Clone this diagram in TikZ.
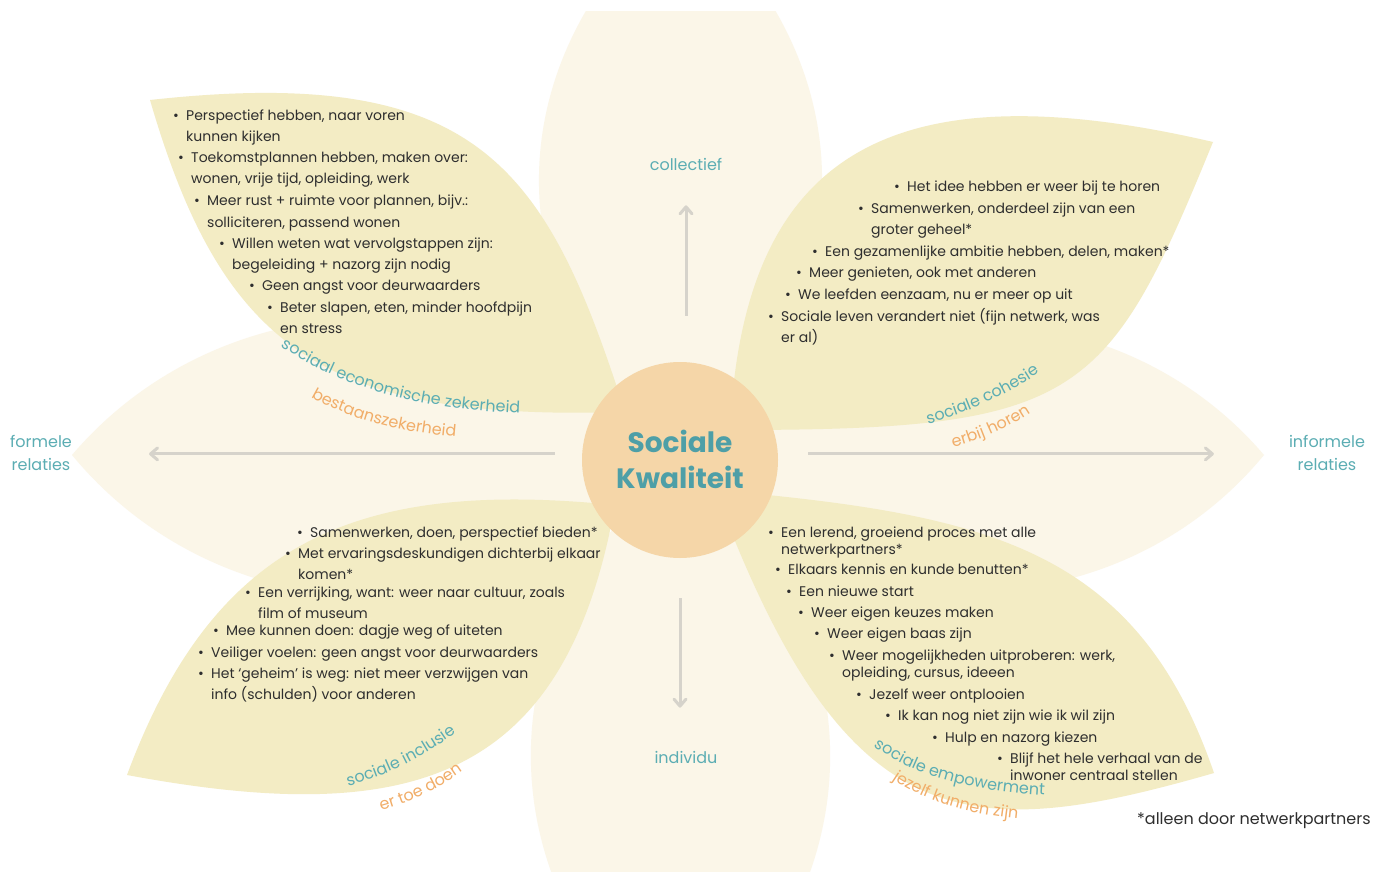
\documentclass[tikz,border=0pt]{standalone}
\usepackage{fontspec}
\setmainfont{Poppins}
\usetikzlibrary{calc,arrows.meta,decorations.text}

\definecolor{bgpetal}{HTML}{FBF6E8}
\definecolor{leafyellow}{HTML}{F3ECC4}
\definecolor{corepeach}{HTML}{F5D6A8}
\definecolor{tealtxt}{HTML}{4E9FA7}
\definecolor{teallbl}{HTML}{5BADB3}
\definecolor{orangelbl}{HTML}{F1AD68}
\definecolor{arrowgray}{HTML}{D6D3CB}
\definecolor{bodytxt}{HTML}{2E2E2E}

\newcommand{\petal}[4]{(#1) .. controls ($(#1)!#4!#3:(#2)$) and ($(#2)!#4!-#3:(#1)$) .. (#2) .. controls ($(#2)!#4!#3:(#1)$) and ($(#1)!#4!-#3:(#2)$) .. (#1) -- cycle}
\newcommand{\itm}[1]{\llap{\makebox[13pt][l]{\textbullet}}\begin{tabular}[t]{@{}l@{}}#1\end{tabular}}
\newcommand{\lblfont}{\fontsize{16}{18}\selectfont}

\begin{document}
\begin{tikzpicture}[x=1pt, y=-1pt,
  bgleaf/.style={fill=bgpetal},
  leaf/.style={fill=leafyellow},
  core/.style={circle, fill=corepeach, minimum size=196pt, inner sep=0pt},
  title/.style={anchor=base, inner sep=0pt, text=tealtxt, font=\bfseries\fontsize{28}{36}\selectfont},
  lbl/.style={anchor=base, inner sep=0pt, text=teallbl, font=\fontsize{16}{23}\selectfont},
  item/.style={anchor=base west, inner sep=0pt, text=bodytxt, font=\fontsize{14}{21}\selectfont},
  tightitem/.style={item, font=\fontsize{14}{17}\selectfont},
  axisline/.style={draw=arrowgray, line width=3pt, -{Straight Barb[length=7pt, width=12pt, round]}}]

\fill[white] (0,0) rectangle (1385,872);
\useasboundingbox (0,0) rectangle (1385,872);

\coordinate (ctr) at (680,460);
\coordinate (ttop) at (681,-100);
\coordinate (tbot) at (681,1052);
\coordinate (tleft) at (72,455);
\coordinate (tright) at (1264,455);

\begin{scope}
  \clip (0,12) rectangle (1385,872);
  \fill[bgleaf] \petal{ctr}{ttop}{50}{0.44};
  \fill[bgleaf] \petal{ctr}{tbot}{50}{0.44};
  \fill[bgleaf] \petal{ctr}{tleft}{50}{0.40};
  \fill[bgleaf] \petal{ctr}{tright}{50}{0.40};
\end{scope}

\coordinate (tlA) at (150,100);
\coordinate (tlB) at (625,412);
\coordinate (trA) at (1213,142);
\coordinate (trB) at (730,430);
\coordinate (blA) at (127,775);
\coordinate (blB) at (615,505);
\coordinate (brA) at (1214,773);
\coordinate (brB) at (715,490);

\fill[leaf] (tlA) .. controls (478,64) and (546,165) .. (tlB) .. controls (325,421) and (223,350) .. (tlA) -- cycle;
\fill[leaf] (trA) .. controls (882,65) and (743,160) .. (trB) .. controls (1080,430) and (1107,401) .. (trA) -- cycle;
\fill[leaf] (blA) .. controls (214,541) and (356,479) .. (blB) .. controls (565,785) and (407,827) .. (blA) -- cycle;
\fill[leaf] (brB) .. controls (984,514) and (1136,546) .. (brA) .. controls (964,845) and (845,838) .. (brB) -- cycle;

\node[core] (core) at (ctr) {};
\node[title] (title) at (680,452) {\begin{tabular}[t]{@{}c@{}}Sociale\\Kwaliteit\end{tabular}};

\node[lbl] (collectief) at (686,171) {collectief};
\node[lbl] (individu) at (686,763) {individu};
\node[lbl] (formele) at (41,447) {\begin{tabular}[t]{@{}c@{}}formele\\relaties\end{tabular}};
\node[lbl] (informele) at (1327,447) {\begin{tabular}[t]{@{}c@{}}informele\\relaties\end{tabular}};

\draw[axisline, shorten <=46pt, shorten >=34pt] (core.north -| collectief) -- (collectief.south);
\draw[axisline, shorten <=40pt, shorten >=43pt] (core.south) -- (core.south |- individu.north);
\draw[axisline, shorten <=27pt, shorten >=77pt] (core.west |- formele.east) -- (formele.east);
\draw[axisline, shorten <=30pt, shorten >=75pt] (core.east |- informele.west) -- (informele.west);

\node[item] (tl1) at (186,121) {\itm{Perspectief hebben, naar voren\\kunnen kijken}};
\node[item] (tl2) at (191,163) {\itm{Toekomstplannen hebben, maken over:\\wonen, vrije tijd, opleiding, werk}};
\node[item] (tl3) at (207,206) {\itm{Meer rust + ruimte voor plannen, bijv.:\\solliciteren, passend wonen}};
\node[item] (tl4) at (232,248) {\itm{Willen weten wat vervolgstappen zijn:\\begeleiding + nazorg zijn nodig}};
\node[item] (tl5) at (262,290) {\itm{Geen angst voor deurwaarders}};
\node[item] (tl6) at (280,312) {\itm{Beter slapen, eten, minder hoofdpijn\\en stress}};

\node[item] (tr1) at (907,192) {\itm{Het idee hebben er weer bij te horen}};
\node[item] (tr2) at (871,213) {\itm{Samenwerken, onderdeel zijn van een\\groter geheel*}};
\node[item] (tr3) at (825,256) {\itm{Een gezamenlijke ambitie hebben, delen, maken*}};
\node[item] (tr4) at (809,277) {\itm{Meer genieten, ook met anderen}};
\node[item] (tr5) at (798,299) {\itm{We leefden eenzaam, nu er meer op uit}};
\node[item] (tr6) at (781,321) {\itm{Sociale leven verandert niet (fijn netwerk, was\\er al)}};

\node[item] (bl1) at (310,537) {\itm{Samenwerken, doen, perspectief bieden*}};
\node[item] (bl2) at (298,558) {\itm{Met ervaringsdeskundigen dichterbij elkaar\\komen*}};
\node[item] (bl3) at (258,597) {\itm{Een verrijking, want: weer naar cultuur, zoals\\film of museum}};
\node[item] (bl4) at (226,635) {\itm{Mee kunnen doen: dagje weg of uiteten}};
\node[item] (bl5) at (211,657) {\itm{Veiliger voelen: geen angst voor deurwaarders}};
\node[item] (bl6) at (211,678) {\itm{Het `geheim' is weg: niet meer verzwijgen van\\info (schulden) voor anderen}};

\node[tightitem] (br1) at (781,537) {\itm{Een lerend, groeiend proces met alle\\netwerkpartners*}};
\node[tightitem] (br2) at (788,574) {\itm{Elkaars kennis en kunde benutten*}};
\node[tightitem] (br3) at (799,596) {\itm{Een nieuwe start}};
\node[tightitem] (br4) at (811,617) {\itm{Weer eigen keuzes maken}};
\node[tightitem] (br5) at (827,638) {\itm{Weer eigen baas zijn}};
\node[tightitem] (br6) at (842,660) {\itm{Weer mogelijkheden uitproberen: werk,\\opleiding, cursus, ideeen}};
\node[tightitem] (br7) at (869,699) {\itm{Jezelf weer ontplooien}};
\node[tightitem] (br8) at (898,720) {\itm{Ik kan nog niet zijn wie ik wil zijn}};
\node[tightitem] (br9) at (945,742) {\itm{Hulp en nazorg kiezen}};
\node[tightitem] (br10) at (1010,763) {\itm{Blijf het hele verhaal van de\\inwoner centraal stellen}};

\path[decorate, decoration={text along path, text color=teallbl, text={|\lblfont|sociaal economische zekerheid}}] (281,346) .. controls (350,394) and (440,414) .. (560,414);
\path[decorate, decoration={text along path, text color=orangelbl, text={|\lblfont|bestaanszekerheid}}] (311,397) .. controls (350,420) and (410,436) .. (480,438);
\path[decorate, decoration={text along path, text color=teallbl, text={|\lblfont|sociale cohesie}}] (928,424) .. controls (965,413) and (1005,398) .. (1055,362);
\path[decorate, decoration={text along path, text color=orangelbl, text={|\lblfont|erbij horen}}] (953,447) .. controls (981,440) and (1013,427) .. (1046,402);
\path[decorate, decoration={text along path, text color=teallbl, text={|\lblfont|sociale inclusie}}] (348,786) .. controls (385,776) and (425,758) .. (470,722);
\path[decorate, decoration={text along path, text color=orangelbl, text={|\lblfont|er toe doen}}] (381,810) .. controls (411,802) and (443,788) .. (477,761);
\path[decorate, decoration={text along path, text color=teallbl, text={|\lblfont|sociale empowerment}}] (874,746) .. controls (920,781) and (985,794) .. (1070,796);
\path[decorate, decoration={text along path, text color=orangelbl, text={|\lblfont|jezelf kunnen zijn}}] (892,779) .. controls (932,806) and (980,817) .. (1045,821);

\node[item, font=\fontsize{16}{20}\selectfont] (note) at (1137,824) {*alleen door netwerkpartners};
\end{tikzpicture}
\end{document}
